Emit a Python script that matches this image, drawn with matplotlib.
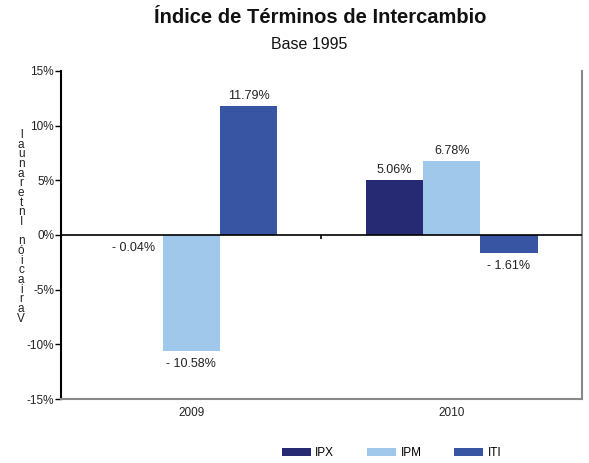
import numpy as np
import matplotlib
matplotlib.use('Agg')
import matplotlib.pyplot as plt
from matplotlib.patches import Patch

years = ['2009', '2010']
ipx = [-0.04, 5.06]
ipm = [-10.58, 6.78]
iti = [11.79, -1.61]
series = ['IPX', 'IPM', 'ITI']
colors = ['#262a73', '#9fc8ea', '#3855a4']

plt.rcParams['font.family'] = ['Liberation Sans', 'DejaVu Sans']

fig = plt.figure(figsize=(5.89, 4.63), dpi=100)
ax = fig.add_axes([0.1036, 0.1382, 0.8844, 0.7085])

x = np.arange(len(years))
w = 0.22
for i, (vals, c) in enumerate(zip([ipx, ipm, iti], colors)):
    pos = x + (i - 1) * w
    ax.bar(pos, vals, width=w, color=c, edgecolor='none', zorder=2)
    for p, v in zip(pos, vals):
        if v >= 0:
            ax.annotate('%.2f%%' % v, (p, v), xytext=(0, 3), textcoords='offset points',
                        ha='center', va='bottom', fontsize=9, color='#222222')
        else:
            ax.annotate('- %.2f%%' % abs(v), (p, v), xytext=(0, -5), textcoords='offset points',
                        ha='center', va='top', fontsize=9, color='#222222')

ax.axhline(0, color='black', lw=1.2, zorder=3)
ax.plot([0.5], [0], marker=3, color='black', markersize=3, mew=1.2, zorder=3)

ax.set_xlim(-0.5, 1.5)
ax.set_ylim(-15, 15)
ax.set_yticks(np.arange(-15, 16, 5))
ax.set_yticklabels(['%d%%' % t for t in np.arange(-15, 16, 5)], fontsize=8.5, color='#222222')
ax.set_xticks(x)
ax.set_xticklabels(years, fontsize=8.5, color='#222222')
ax.tick_params(axis='x', length=0, pad=6)
ax.tick_params(axis='y', length=4, width=1, direction='out', pad=1)

ax.spines['top'].set_visible(False)
ax.spines['left'].set_linewidth(1.5)
ax.spines['left'].set_color('black')
ax.spines['right'].set_color('#888888')
ax.spines['bottom'].set_color('#888888')
ax.spines['right'].set_linewidth(1.5)
ax.spines['bottom'].set_linewidth(1.5)

# stacked y label
lbl = '\n'.join(reversed('Variación Interanual'))
fig.text(0.036, 0.51, lbl, ha='center', va='center', fontsize=8.5, linespacing=0.74, color='#222222')

fig.text(0.543, 0.963, 'Índice de Términos de Intercambio', ha='center', va='center',
         fontsize=14.5, fontweight='bold', color='#111111')
fig.text(0.525, 0.903, 'Base 1995', ha='center', va='center', fontsize=11.5, color='#111111')

handles = [Patch(facecolor=c, edgecolor='none') for c in colors]
fig.legend(handles, series, loc='center', bbox_to_anchor=(0.665, 0.022), ncol=3, frameon=False,
           fontsize=8.5, handlelength=2.4, handleheight=0.7, columnspacing=2.8, handletextpad=0.4)

fig.savefig('out.png', dpi=100)
